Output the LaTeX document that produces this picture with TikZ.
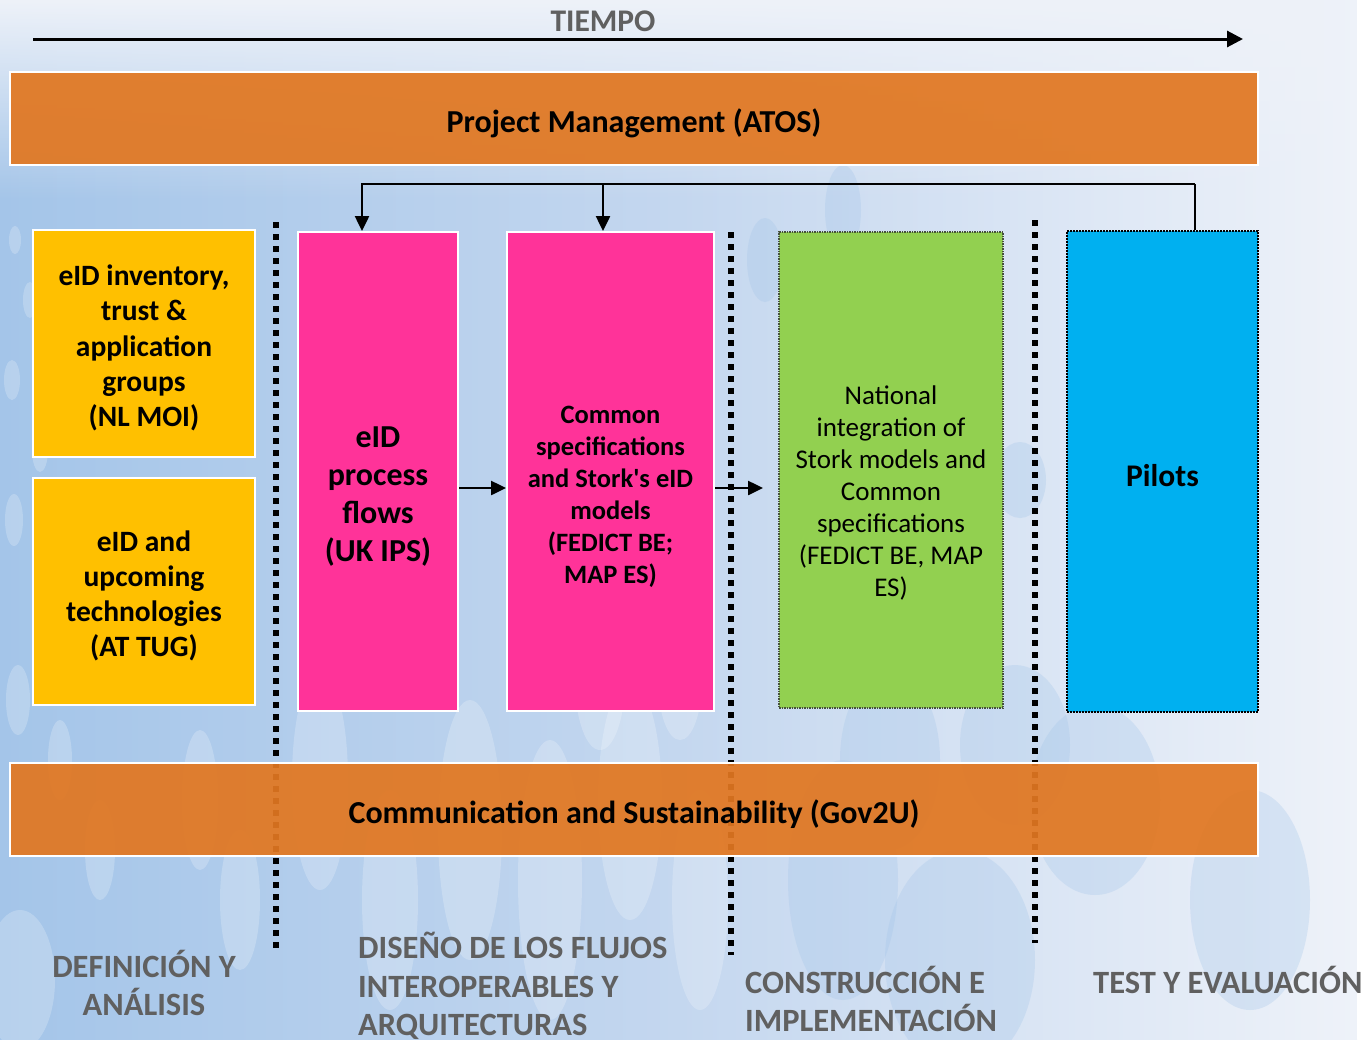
\documentclass[tikz,border=0pt]{standalone}
\usepackage{fontspec}
\setmainfont{Carlito}[Ligatures=TeXOff]
\usetikzlibrary{arrows.meta,calc,fadings}
\definecolor{bgblue}{RGB}{164,197,233}
\definecolor{bglight}{RGB}{238,242,249}
\definecolor{barorange}{RGB}{225,119,33}
\definecolor{ybox}{RGB}{255,192,0}
\definecolor{pbox}{RGB}{255,51,153}
\definecolor{gbox}{RGB}{146,208,80}
\definecolor{bbox}{RGB}{0,176,240}
\definecolor{labgray}{RGB}{96,96,96}
\tikzset{
  bar/.style={draw=white, line width=2pt, fill=barorange, fill opacity=0.93,
    minimum width=1248pt, minimum height=93pt, inner sep=0pt},
  bartext/.style={inner sep=0pt, font=\bfseries\fontsize{32}{38}\selectfont},
  cbox/.style={draw=white, line width=2pt, inner sep=0pt},
  txt/.style={align=center, inner sep=0pt},
  sep/.style={line width=6pt, dash pattern=on 6pt off 6pt},
  arr/.style={line width=2.5pt, -{Triangle[length=15pt,width=14pt]}},
  plain/.style={line width=2.5pt},
  phase/.style={text=labgray, font=\bfseries\fontsize{32.5}{38.5}\selectfont, inner sep=0pt}
}
\begin{document}
\begin{tikzpicture}[x=1pt,y=-1pt]
\useasboundingbox (0,0) rectangle (1371,1039);
% background
\shade[left color=bgblue, right color=bglight, middle color={rgb,255:red,196;green,215;blue,239}] (0,0) rectangle (1357,1039);
\fill[bglight, path fading=south] (0,0) rectangle (1357,200);
\fill[white] (1357,0) rectangle (1371,1039);
\begin{scope}[fill=white, fill opacity=0.22]
  \foreach \x/\y/\ra/\rb in {15/240/6/14, 30/300/7/18, 12/380/8/20, 40/450/8/22, 14/520/9/26, 45/600/10/30,
     18/700/12/35, 60/760/12/40, 100/850/15/50, 170/660/14/45, 200/800/18/70, 240/900/20/70,
     320/780/28/110, 390/900/28/110, 470/830/32/130, 550/880/32/140, 630/800/32/120, 700/900/28/110,
     20/980/35/70, 600/680/25/70, 680/680/22/60}
    \fill (\x,\y) ellipse [x radius=\ra, y radius=\rb];
\end{scope}
\begin{scope}[fill=bgblue, fill opacity=0.3]
  \foreach \x/\y/\ra/\rb in {843/880/55/120, 890/760/50/90, 960/960/75/110, 1020/480/26/38,
     1015/745/55/80, 765/260/18/42, 843/210/18/45, 1095/800/65/95, 1250/900/60/110, 935/640/35/60}
    \fill (\x,\y) ellipse [x radius=\ra, y radius=\rb];
\end{scope}

% time arrow
\node[text=labgray, font=\bfseries\fontsize{31.5}{36}\selectfont, inner sep=0pt] (tiempo) at (603,21) {TIEMPO};
\coordinate (t0) at (33,39);
\coordinate (t1) at (1243,39);
\draw[line width=3pt, -{Triangle[length=16pt,width=16pt]}] (t0) -- (t1);

% phase separators
\coordinate (s1a) at (276,222); \coordinate (s1b) at (276,952);
\coordinate (s2a) at (731,232); \coordinate (s2b) at (731,955);
\coordinate (s3a) at (1035,220); \coordinate (s3b) at (1035,943);
\draw[sep] (s1a) -- (s1b);
\draw[sep] (s2a) -- (s2b);
\draw[sep] (s3a) -- (s3b);

% bars
\node[bar] (pm) at (634,118.5) {};
\node[bartext] (pmt) at (634,123.5) {Project Management (ATOS)};
\node[bar] (cs) at (634,809) {};
\node[bartext] (cst) at (634,814) {Communication and Sustainability (Gov2U)};

% boxes
\node[cbox, fill=ybox, minimum width=222pt, minimum height=227pt] (y1) at (144,343.5) {};
\node[txt, font=\bfseries\fontsize{29.5}{35.2}\selectfont] (y1t) at (144,348) {eID inventory,\\trust \&\\application\\groups\\(NL MOI)};
\node[cbox, fill=ybox, minimum width=222pt, minimum height=227pt] (y2) at (144,591.5) {};
\node[txt, font=\bfseries\fontsize{29.5}{35.2}\selectfont] (y2t) at (144,596) {eID and\\upcoming\\technologies\\(AT TUG)};

\node[cbox, fill=pbox, minimum width=160pt, minimum height=479pt] (pk1) at (378,471.5) {};
\node[txt, font=\bfseries\fontsize{32}{38}\selectfont] (pk1t) at (378,497) {eID\\process\\flows\\(UK IPS)};
\node[cbox, fill=pbox, minimum width=207pt, minimum height=479pt] (pk2) at (610.5,471.5) {};
\node[txt, font=\bfseries\fontsize{26.5}{32}\selectfont] (pk2t) at (610.5,497) {Common\\specifications\\and Stork's eID\\models\\(FEDICT BE;\\MAP ES)};

\node[draw={rgb,255:red,70;green,80;blue,60}, line width=1.5pt, dash pattern=on 1.5pt off 1pt, fill=gbox, inner sep=0pt, minimum width=224pt, minimum height=476pt] (gr) at (891,470) {};
\node[txt, font=\fontsize{27}{32}\selectfont] (grt) at (891,493) {National\\integration of\\Stork models and\\Common\\specifications\\(FEDICT BE, MAP\\ES)};

\node[draw=black, line width=2pt, dash pattern=on 2pt off 1pt, fill=bbox, inner sep=0pt, minimum width=191pt, minimum height=481pt] (pil) at (1162.5,471.5) {};
\node[txt, font=\bfseries\fontsize{31.5}{36}\selectfont] (pilt) at (1162.5,476) {Pilots};

% connectors
\coordinate (bus) at (1195,184);
\coordinate (pk1in) at ([xshift=-16pt]pk1.north);
\coordinate (pk2in) at ([xshift=-7.5pt]pk2.north);
\draw[plain] (pil.north -| bus) -- (bus);
\draw[arr] (bus) -| (pk1in);
\draw[arr] (bus -| pk2in) -- (pk2in);
\draw[arr] ([yshift=-16.5pt]pk1.east) -- ([yshift=-16.5pt]pk2.west);
\coordinate (gin) at (763,488);
\draw[arr] ([yshift=-16.5pt]pk2.east) -- (gin);

% phase labels
\node[phase, align=center] (ph1) at (144,983) {DEFINICIÓN Y\\ANÁLISIS};
\node[phase, align=left, anchor=west] (ph2) at (358,986) {DISEÑO DE LOS FLUJOS\\INTEROPERABLES Y\\ARQUITECTURAS};
\node[phase, align=left, anchor=west] (ph3) at (745,999) {CONSTRUCCIÓN E\\IMPLEMENTACIÓN};
\node[phase, anchor=west] (ph4) at (1093,980) {TEST Y EVALUACIÓN};
\end{tikzpicture}
\end{document}
